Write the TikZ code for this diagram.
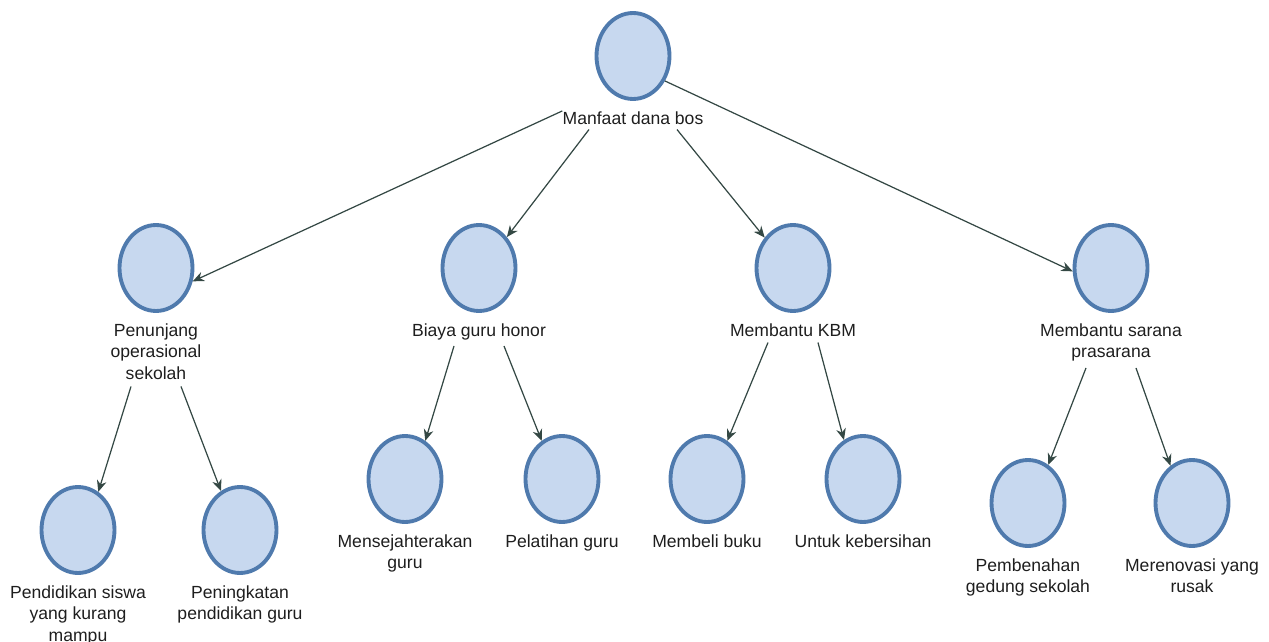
\documentclass[tikz,border=0pt]{standalone}
\usepackage{fontspec}
\setmainfont{Liberation Sans}
\usepackage{tikz}
\usepackage{xcolor}
\usetikzlibrary{shapes.geometric, arrows.meta, positioning}
\definecolor{cFill}{RGB}{199,216,239}
\definecolor{cEdge}{RGB}{79,122,173}
\definecolor{cArrow}{RGB}{52,72,68}
\definecolor{cText}{RGB}{30,30,30}
\tikzset{
	bubble/.style   ={ellipse, draw=cEdge, fill=cFill, line width=2.2pt, minimum width=1.46cm, minimum height=1.72cm},
	caption/.style  ={align=center, inner sep=0pt, text=cText, font=\fontsize{10}{12.5}\selectfont},
	flowarrow/.style={-{Stealth[length=6.5pt, width=5.5pt]}, draw=cArrow, line width=0.7pt},
	% start of a branch below a caption
	lft/.style={xshift=-0.5cm, yshift=-0.12cm},
	rgt/.style={xshift=0.5cm, yshift=-0.12cm},
}

\begin{document}
\begin{tikzpicture}[x=0.02cm, y=-0.02cm, node distance=0.2cm]
	\useasboundingbox (0,0) rectangle (1269,642);
	% root
	\node[bubble] (root) at (633,56) {};
	\node[caption, below=of root] (rootT) {Manfaat dana bos};
	% second level
	\node[bubble] (pen) at (156,268) {};
	\node[caption, below=of pen] (penT) {Penunjang\\ operasional\\ sekolah};
	\node[bubble] (biaya) at (479,268) {};
	\node[caption, below=of biaya] (biayaT) {Biaya guru honor};
	\node[bubble] (kbm) at (793,268) {};
	\node[caption, below=of kbm] (kbmT) {Membantu KBM};
	\node[bubble] (sar) at (1111,268) {};
	\node[caption, below=of sar] (sarT) {Membantu sarana\\ prasarana};
	% third level
	\node[bubble] (pend) at (78,530) {};
	\node[caption, below=of pend] (pendT) {Pendidikan siswa\\ yang kurang\\ mampu};
	\node[bubble] (pening) at (240,530) {};
	\node[caption, below=of pening] (peningT) {Peningkatan\\ pendidikan guru};
	\node[bubble] (sejah) at (405,479) {};
	\node[caption, below=of sejah] (sejahT) {Mensejahterakan\\ guru};
	\node[bubble] (latih) at (562,479) {};
	\node[caption, below=of latih] (latihT) {Pelatihan guru};
	\node[bubble] (buku) at (707,479) {};
	\node[caption, below=of buku] (bukuT) {Membeli buku};
	\node[bubble] (bersih) at (863,479) {};
	\node[caption, below=of bersih] (bersihT) {Untuk kebersihan};
	\node[bubble] (benah) at (1028,503) {};
	\node[caption, below=of benah] (benahT) {Pembenahan\\ gedung sekolah};
	\node[bubble] (renov) at (1192,503) {};
	\node[caption, below=of renov] (renovT) {Merenovasi yang\\ rusak};
	% arrows
	\draw[flowarrow] (rootT.north west) -- (pen.-20);
	\draw[flowarrow] ([xshift=-0.88cm, yshift=-0.1cm]rootT.south) -- (biaya.48);
	\draw[flowarrow] ([xshift=0.88cm, yshift=-0.1cm]rootT.south) -- (kbm.133);
	\draw[flowarrow] (root.-38) -- (sar.185);
	\draw[flowarrow] ([lft]penT.south) -- (pend.62);
	\draw[flowarrow] ([rgt]penT.south) -- (pening.116);
	\draw[flowarrow] ([lft]biayaT.south) -- (sejah.62);
	\draw[flowarrow] ([rgt]biayaT.south) -- (latih.118);
	\draw[flowarrow] ([lft]kbmT.south) -- (buku.62);
	\draw[flowarrow] ([rgt]kbmT.south) -- (bersih.116);
	\draw[flowarrow] ([lft]sarT.south) -- (benah.62);
	\draw[flowarrow] ([rgt]sarT.south) -- (renov.120);
\end{tikzpicture}
\end{document}
